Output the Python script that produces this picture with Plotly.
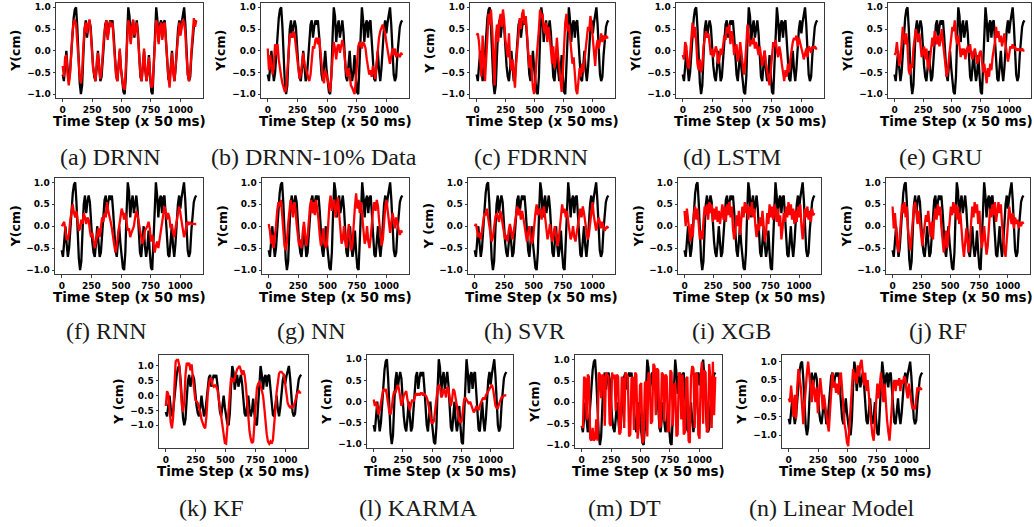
import numpy as np
import plotly.graph_objects as go

# ---------------- data (sampled every ~10 time steps) ----------------
GROUND_TRUTH = [
    -0.55, -0.70, -0.35, 0.00, -0.40, -0.70, -0.50, -0.05, 0.40, 0.75,
    0.95, 1.00, 0.55, -0.20, -0.75, -1.00, -0.80, -0.10, 0.50, 0.70,
    0.30, 0.55, 0.70, 0.55, 0.05, -0.35, -0.60, -0.70, -0.40, 0.00,
    -0.35, -0.70, -0.60, -0.15, 0.30, 0.60, 0.70, 0.30, 0.55, 0.70,
    0.60, 0.70, 0.35, -0.15, -0.55, -0.70, -0.30, 0.00, -0.40, -0.75,
    -0.95, -1.00, -0.60, 0.30, 1.00, 0.80, 0.20, 0.55, 0.70, 0.30,
    0.55, 0.70, 0.40, -0.20, -0.60, -0.70, -0.30, 0.00, -0.45, -0.70,
    -0.50, -0.10, -0.60, -0.95, -1.00, -0.40, 0.50, 1.00, 0.70, 0.20,
    0.60, 0.70, 0.30, 0.65, 0.70, 0.20, -0.35, -0.65, -0.70, -0.30,
    0.00, -0.45, -0.70, -0.40, 0.10, 0.50, 0.70, 0.40, 0.65, 0.90,
    1.00, 0.60, -0.10, -0.55, -0.70, -0.60, -0.10, 0.30, 0.55, 0.65, 0.70,
]

DRNN = [
    -0.35, -0.60, -0.15, -0.10, -0.55, -0.80, -0.55, 0.00, 0.40, 0.65,
    0.72, 0.60, 0.20, -0.35, -0.60, -0.75, -0.50, 0.10, 0.50, 0.65,
    0.40, 0.60, 0.72, 0.45, 0.00, -0.40, -0.55, -0.70, -0.25, -0.05,
    -0.40, -0.65, -0.45, 0.00, 0.35, 0.55, 0.70, 0.25, 0.50, 0.68,
    0.55, 0.65, 0.20, -0.25, -0.60, -0.70, -0.20, 0.05, -0.45, -0.70,
    -0.85, -0.90, -0.45, 0.25, 0.70, 0.60, 0.15, 0.50, 0.72, 0.35,
    0.55, 0.65, 0.30, -0.25, -0.55, -0.70, -0.30, 0.05, -0.40, -0.70,
    -0.45, -0.15, -0.55, -0.85, -0.80, -0.30, 0.40, 0.70, 0.60, 0.15,
    0.55, 0.65, 0.25, 0.60, 0.65, 0.15, -0.30, -0.60, -0.85, -0.30,
    -0.05, -0.50, -0.70, -0.35, 0.05, 0.45, 0.65, 0.35, 0.60, 0.72,
    0.65, 0.40, -0.15, -0.55, -0.70, -0.50, 0.00, 0.35, 0.75, 0.55, 0.70,
]

DRNN_10 = [
    0.05, -0.45, -0.10, -0.40, -0.55, -0.30, 0.15, -0.10, 0.15, -0.20,
    -0.45, -0.60, -0.75, -0.85, -0.95, -0.90, -0.40, 0.10, 0.35, 0.40,
    0.30, 0.45, 0.35, 0.10, -0.20, -0.50, -0.65, -0.55, -0.20, -0.05,
    -0.30, -0.40, -0.55, -0.60, -0.70, -0.55, -0.15, 0.10, 0.05, 0.25,
    0.30, 0.15, 0.30, -0.05, -0.45, -0.60, -0.75, -0.45, -0.55, -0.70,
    -0.80, -0.95, -0.55, -0.10, 0.20, 0.05, -0.20, 0.10, 0.15, -0.05,
    0.10, 0.25, 0.10, -0.20, -0.45, -0.60, -0.40, -0.55, -0.80, -0.85,
    -0.95, -1.00, -0.70, -0.20, 0.10, 0.20, 0.15, 0.05, 0.20, 0.15,
    0.05, -0.20, -0.40, -0.55, -0.45, -0.60, -0.35, -0.55, -0.65, -0.30,
    0.10, 0.30, 0.45, 0.55, 0.60, 0.50, 0.40, 0.20, -0.05, -0.15,
    -0.30, -0.05, 0.05, -0.10, 0.05, -0.15, -0.05, -0.10, -0.15, -0.05, -0.10,
]

FDRNN = [
    0.35, 0.40, 0.20, -0.30, -0.60, 0.35, -0.20, -0.70, -0.20, 0.40,
    0.85, 0.60, 0.95, 0.50, -0.30, -0.80, 0.30, 0.60, 0.20, 0.70,
    0.85, 0.55, 0.95, 0.70, 0.25, 0.00, -0.15, 0.40, -0.25, -0.45,
    -0.20, -0.55, -0.85, -0.30, 0.10, 0.40, 0.75, 0.50, 0.85, 0.95,
    0.60, 0.80, 0.30, -0.20, -0.40, -0.10, -0.55, -0.85, -1.00, -0.70,
    -0.20, 0.10, 0.50, 0.95, 0.75, 0.85, 0.50, 0.40, 0.65, 0.20,
    0.55, 0.35, 0.00, -0.30, 0.10, -0.40, -0.20, 0.30, -0.10, -0.45,
    -0.75, -0.95, -0.50, 0.20, 0.65, 0.85, 0.45, 0.60, 0.30, 0.10,
    -0.30, -0.15, -0.60, -0.90, -1.00, -0.75, -0.40, -0.60, -0.30, -0.50,
    -0.20, 0.10, 0.40, 0.55, 0.45, 0.80, 0.60, 0.30, -0.15, -0.35,
    0.10, 0.25, 0.05, 0.30, 0.40, 0.20, 0.35, 0.25, 0.35, 0.30, 0.30,
]

LSTM = [
    -0.10, -0.20, 0.20, 0.10, -0.35, -0.40, -0.10, 0.20, 0.65, 0.30,
    0.55, 0.20, -0.30, -0.45, -0.20, -0.50, -0.35, 0.10, 0.35, 0.45,
    0.30, 0.40, 0.15, -0.10, 0.05, -0.15, -0.05, 0.10, 0.00, -0.30,
    -0.20, 0.05, -0.10, 0.15, 0.35, 0.25, 0.55, 0.40, 0.60, 0.15,
    0.45, 0.30, -0.10, 0.05, 0.15, -0.25, -0.10, 0.20, -0.05, -0.30,
    -0.55, -0.30, 0.10, 0.60, 0.35, 0.10, 0.25, 0.15, 0.30, 0.05,
    0.20, 0.00, -0.10, 0.10, -0.20, -0.35, -0.15, 0.00, -0.30, -0.45,
    -0.60, -0.80, -0.45, -0.10, 0.20, 0.10, 0.25, 0.00, -0.15, 0.10,
    -0.05, -0.30, -0.50, -0.70, -0.45, -0.60, -0.30, -0.50, -0.20, 0.05,
    0.20, 0.30, 0.25, 0.35, 0.10, 0.30, 0.20, 0.05, -0.05, -0.20,
    -0.10, 0.05, -0.15, 0.10, 0.05, -0.05, 0.10, 0.05, 0.10, 0.05, 0.05,
]

GRU = [
    -0.10, -0.05, 0.20, -0.10, -0.35, -0.20, 0.10, 0.55, 0.30, 0.15,
    0.40, 0.10, -0.45, -0.55, -0.30, -0.40, 0.05, 0.30, 0.50, 0.35,
    0.20, 0.40, 0.05, -0.15, -0.05, 0.10, -0.20, 0.05, -0.30, -0.45,
    -0.20, 0.05, 0.30, 0.10, 0.45, 0.30, 0.15, 0.35, 0.10, 0.25,
    0.50, 0.20, 0.00, -0.30, -0.60, -0.50, -0.20, 0.10, 0.40, 0.55,
    0.45, 0.70, 0.30, 0.15, 0.35, 0.10, -0.15, 0.05, -0.10, 0.05,
    -0.20, 0.00, 0.10, -0.05, 0.15, -0.10, -0.20, -0.05, 0.05, -0.10,
    -0.30, -0.20, -0.05, 0.00, -0.25, -0.50, -0.30, -0.60, -0.75, -0.40,
    -0.60, -0.30, -0.45, -0.15, 0.05, 0.20, 0.55, 0.30, 0.45, 0.20,
    0.35, 0.10, 0.25, 0.40, 0.15, -0.05, -0.25, -0.10, 0.10, 0.05,
    0.15, 0.05, 0.10, 0.00, 0.05, 0.00, 0.05, 0.00, 0.05, 0.00, 0.00,
]

RNN = [
    0.00, 0.05, 0.10, -0.10, -0.30, -0.30, -0.15, 0.15, 0.30, 0.50,
    0.30, 0.20, 0.35, 0.05, -0.10, -0.05, 0.15, 0.05, 0.30, 0.20,
    0.05, 0.20, 0.15, -0.10, -0.25, -0.15, -0.30, -0.50, -0.35, -0.20,
    -0.05, -0.25, 0.00, 0.20, 0.10, 0.30, 0.20, 0.55, 0.35, 0.25,
    0.10, -0.05, -0.30, -0.45, -0.60, -0.45, -0.20, 0.00, 0.25, 0.40,
    0.30, 0.15, 0.30, 0.05, -0.10, -0.05, -0.25, -0.15, -0.05, 0.00,
    0.20, 0.35, 0.25, 0.05, -0.05, -0.25, -0.40, -0.30, -0.10, -0.05,
    0.00, 0.10, -0.05, -0.35, -0.20, -0.40, -0.60, -0.45, -0.35, -0.50,
    -0.30, -0.15, 0.05, 0.20, 0.45, 0.35, 0.15, 0.30, 0.20, -0.05,
    0.05, -0.15, -0.25, -0.05, 0.15, 0.35, 0.45, 0.30, 0.10, -0.10,
    -0.25, -0.15, 0.05, 0.10, 0.05, 0.08, 0.05, 0.06, 0.05, 0.05, 0.05,
]

NN = [
    0.05, -0.10, -0.40, -0.20, -0.50, -0.30, 0.00, 0.35, 0.55, 0.45,
    0.60, 0.30, -0.10, -0.45, -0.55, -0.35, 0.05, 0.40, 0.60, 0.45,
    0.20, 0.55, 0.40, 0.05, -0.25, -0.45, -0.30, -0.50, -0.15, 0.10,
    -0.20, -0.45, -0.25, 0.15, 0.45, 0.60, 0.30, 0.55, 0.25, 0.60,
    0.40, 0.15, -0.20, -0.45, -0.30, -0.05, -0.35, -0.50, -0.40, 0.10,
    0.50, 0.70, 0.35, 0.55, 0.60, 0.20, 0.45, 0.65, 0.30, -0.10,
    -0.40, -0.30, 0.00, -0.35, -0.50, -0.20, 0.05, -0.30, -0.55, -0.40,
    0.10, 0.45, 0.75, 0.40, 0.60, 0.30, 0.55, 0.20, -0.15, -0.40,
    -0.30, 0.00, -0.35, -0.50, -0.25, 0.15, 0.40, 0.55, 0.35, 0.60,
    0.45, 0.10, -0.25, -0.45, -0.30, 0.10, 0.45, 0.60, 0.30, 0.05,
    -0.15, 0.10, 0.30, 0.15, -0.05, 0.20, 0.10, -0.10, -0.20, -0.10, -0.15,
]

SVR = [
    0.00, 0.05, -0.10, -0.25, -0.15, -0.30, -0.10, 0.15, 0.30, 0.25,
    0.40, 0.20, 0.00, -0.20, -0.35, -0.25, 0.00, 0.20, 0.30, 0.20,
    0.10, 0.35, 0.25, 0.05, -0.15, -0.30, -0.20, -0.35, -0.10, 0.05,
    -0.10, -0.30, -0.15, 0.10, 0.30, 0.45, 0.25, 0.40, 0.15, 0.35,
    0.20, 0.00, -0.20, -0.35, -0.15, 0.00, -0.25, -0.40, -0.30, 0.05,
    0.30, 0.50, 0.25, 0.35, 0.40, 0.15, 0.30, 0.45, 0.20, -0.05,
    -0.30, -0.15, 0.05, -0.20, -0.35, -0.15, 0.00, -0.20, -0.45, -0.35,
    0.00, 0.25, 0.50, 0.30, 0.40, 0.20, 0.35, 0.10, -0.10, -0.30,
    -0.20, 0.00, -0.25, -0.35, -0.15, 0.05, 0.25, 0.40, 0.20, 0.45,
    0.30, 0.05, -0.15, -0.30, -0.20, 0.05, 0.30, 0.55, 0.25, 0.05,
    -0.10, 0.05, 0.20, 0.10, -0.05, 0.10, 0.00, -0.10, -0.05, 0.00, -0.05,
]

XGB = [
    0.35, 0.00, 0.40, 0.10, -0.20, -0.35, 0.05, -0.25, 0.30, 0.45,
    0.15, 0.40, 0.05, -0.30, -0.10, -0.30, 0.10, 0.45, 0.25, 0.50,
    0.15, 0.55, 0.30, 0.50, 0.10, 0.40, 0.15, 0.45, 0.10, 0.35,
    0.05, 0.30, 0.50, 0.15, 0.45, 0.10, 0.50, 0.25, 0.55, 0.20,
    0.45, -0.05, -0.30, -0.10, 0.25, 0.00, 0.35, -0.20, 0.10, 0.45,
    0.20, 0.55, 0.30, 0.50, 0.15, 0.45, 0.25, 0.55, 0.20, 0.40,
    0.00, -0.25, 0.05, -0.10, 0.20, 0.00, 0.35, -0.10, -0.35, -0.15,
    0.30, 0.05, 0.50, 0.20, 0.45, 0.15, 0.50, 0.30, 0.10, 0.40,
    0.00, 0.25, -0.30, -0.05, 0.30, 0.10, 0.45, 0.20, 0.55, 0.25,
    0.50, 0.15, 0.40, 0.05, 0.35, 0.10, 0.45, 0.20, 0.50, 0.00,
    -0.30, 0.05, 0.40, 0.20, 0.45, 0.15, 0.35, 0.10, 0.40, 0.25, 0.30,
]

RF = [
    0.45, -0.05, 0.30, -0.20, -0.45, -0.60, -0.20, 0.20, 0.50, 0.30,
    0.55, 0.20, 0.45, -0.10, -0.40, -0.55, -0.20, 0.15, 0.45, 0.55,
    0.25, 0.05, 0.35, 0.10, -0.25, -0.45, -0.20, 0.05, 0.25, 0.10,
    0.35, 0.05, -0.25, 0.10, -0.30, 0.20, 0.40, 0.15, 0.50, 0.25,
    0.45, 0.00, -0.35, -0.60, -0.40, -0.10, -0.50, -0.25, 0.10, 0.45,
    0.25, 0.55, 0.30, 0.50, 0.15, 0.45, 0.05, 0.30, -0.15, -0.45,
    -0.70, -0.35, -0.05, -0.35, -0.60, -0.30, 0.10, 0.45, 0.20, 0.55,
    0.30, 0.50, 0.05, 0.35, -0.20, -0.50, -0.30, 0.00, -0.35, -0.65,
    -0.45, 0.05, 0.40, 0.20, 0.50, 0.25, 0.55, 0.10, 0.40, 0.55,
    0.30, 0.50, 0.05, -0.30, -0.55, -0.70, -0.35, 0.10, 0.45, 0.25,
    0.05, 0.30, -0.05, 0.20, 0.05, 0.15, -0.05, 0.10, 0.00, 0.10, 0.05,
]

KF = [
    -0.35, 0.15, 0.05, -0.50, -0.90, -1.10, -0.70, 0.30, 1.15, 1.20,
    1.20, 1.00, 0.30, -0.30, -0.55, -0.20, 0.70, 1.10, 1.05, 1.10,
    0.85, 1.05, 0.60, 0.10, -0.15, -0.20, -0.25, -0.40, -0.55, -0.80,
    -0.95, -1.05, -1.10, -0.70, 0.00, 0.40, 0.55, 0.60, 0.35, 0.30,
    0.35, 0.30, 0.20, -0.10, -0.50, -0.80, -1.10, -1.35, -1.60, -1.62,
    -1.00, -0.30, 0.30, 0.60, 0.55, 0.45, 0.60, 0.80, 0.90, 0.95,
    1.00, 0.85, 0.70, 0.85, 0.70, 0.35, -0.20, -0.80, -1.20, -1.45,
    -1.60, -1.55, -0.90, -0.20, 0.25, 0.40, 0.45, 0.35, 0.20, 0.00,
    -0.40, -0.90, -1.30, -1.55, -1.62, -1.55, -1.62, -1.50, -1.10, -0.50,
    0.10, 0.50, 0.75, 0.80, 0.80, 0.75, 0.70, 0.40, 0.00, -0.25,
    -0.35, -0.40, -0.35, -0.40, -0.35, -0.20, 0.00, 0.10, 0.15, 0.10, 0.10,
]

KARMA = [
    0.05, -0.10, 0.00, -0.20, -0.30, -0.20, 0.00, 0.20, 0.30, 0.25,
    0.30, 0.15, -0.05, -0.25, -0.30, -0.15, 0.10, 0.25, 0.20, 0.30,
    0.40, 0.30, 0.05, -0.10, 0.00, 0.15, 0.20, 0.25, 0.05, -0.10,
    -0.20, -0.05, 0.05, 0.00, 0.10, 0.20, 0.15, 0.20, 0.15, 0.20,
    0.20, 0.15, 0.20, 0.15, 0.10, 0.00, -0.20, -0.40, -0.50, -0.50,
    -0.45, -0.20, 0.10, 0.30, 0.40, 0.35, 0.10, 0.15, 0.30, 0.25,
    0.10, 0.35, 0.30, 0.05, -0.10, 0.05, 0.30, 0.25, 0.10, -0.10,
    -0.30, -0.45, -0.50, -0.45, -0.20, 0.05, 0.10, 0.05, 0.00, -0.05,
    0.00, -0.10, -0.20, -0.25, -0.20, -0.10, -0.15, -0.20, -0.10, 0.00,
    0.05, 0.10, 0.05, 0.15, 0.20, 0.25, 0.30, 0.35, 0.40, 0.30,
    0.10, -0.10, -0.15, -0.15, -0.05, 0.05, 0.10, 0.10, 0.15, 0.15, 0.15,
]

DT = [
    -0.55, -0.60, 0.60, 0.55, -0.40, 0.65, 0.60, -0.85, -0.90, -0.60,
    -0.90, -0.85, -0.40, -0.90, 0.70, 0.65, 0.10, 0.65, 0.60, -0.55,
    0.70, 0.65, 0.60, -0.50, -0.55, 0.70, 0.55, 0.65, -0.20, 0.65,
    0.60, -0.75, -0.70, 0.60, 0.55, -0.60, 0.70, 0.65, 0.60, -0.80,
    -0.75, 0.55, 0.60, -0.65, 0.70, 0.65, -0.85, -0.60, 0.40, 0.45,
    -0.95, -0.90, 0.45, 0.50, -0.80, 0.70, 0.65, -0.50, -0.45, 0.90,
    0.85, -0.30, 0.80, 0.75, -0.60, -0.55, 0.70, 0.65, -0.45, 0.65,
    0.60, -0.70, -0.65, 0.75, 0.70, -0.55, 0.40, 0.45, -0.80, -0.75,
    0.70, 0.65, -0.40, 0.65, -0.75, -0.70, 0.55, 0.60, -0.90, -0.95,
    0.60, 0.85, 0.80, -0.60, 0.70, 0.65, -0.75, -0.85, 0.60, 0.95,
    -0.50, 0.75, 0.70, -0.70, -0.65, 0.90, 0.55, -0.60, 0.95, -0.30, 0.60,
]

LINEAR = [
    0.00, -0.10, 0.35, -0.20, -0.50, 0.10, -0.55, 0.30, 0.80, 0.55,
    0.30, -0.20, -0.70, -0.20, 0.40, 0.70, 1.00, 0.60, 0.20, -0.10,
    0.50, 0.20, -0.10, 0.30, -0.40, 0.10, 0.55, 0.20, -0.30, 0.10,
    -0.20, -0.50, -0.70, -0.90, -0.30, 0.20, 0.70, 0.30, 0.45, 0.15,
    0.40, 0.10, 0.60, 0.70, 0.20, -0.40, -0.70, -0.90, -1.20, -1.30,
    -0.80, -0.20, 0.30, 0.80, 0.50, 0.70, 0.40, 0.90, 0.60, 0.95,
    1.05, 0.60, 0.35, 0.70, 0.20, 0.50, 0.00, -0.40, -0.70, -1.00,
    -1.15, -0.60, 0.10, 0.40, 0.00, 0.30, 0.70, 0.20, -0.10, 0.40,
    -0.20, -0.60, -0.90, -1.15, -0.70, 0.00, 0.35, 0.50, 0.20, 0.50,
    0.35, 0.55, 0.20, 0.50, 0.40, 0.60, 0.55, 0.20, 0.00, 0.40,
    0.10, -0.10, -0.30, -0.20, -0.30, 0.10, 0.30, 0.20, 0.30, 0.25, 0.25,
]

LAST_STEP = 1135
X_TICKS = [0, 250, 500, 750, 1000]
Y_TICKS = [-1.0, -0.5, 0.0, 0.5, 1.0]
Y_TICK_TEXT = ["\u22121.0", "\u22120.5", "0.0", "0.5", "1.0"]

# ---------------- layout spec (pixel boxes) ----------------
W, H = 1034, 527
PANELS = [
    # caption, y label, series, box (l, r, top, bottom), y range, caption centre
    ("(a) DRNN", "Y(cm)", DRNN, (56, 203, 2, 98), (-1.1, 1.1), (110, 157)),
    ("(b) DRNN-10% Data", "Y(cm)", DRNN_10, (261, 409, 2, 98), (-1.1, 1.1), (314, 157)),
    ("(c) FDRNN", "Y (cm)", FDRNN, (470, 615, 2, 98), (-1.1, 1.1), (531, 157)),
    ("(d) LSTM", "Y(cm)", LSTM, (676, 824, 2, 98), (-1.1, 1.1), (732, 157)),
    ("(e) GRU", "Y(cm)", GRU, (888, 1031, 2, 98), (-1.1, 1.1), (940, 157)),
    ("(f) RNN", "Y(cm)", RNN, (55, 203, 178, 275), (-1.1, 1.1), (106, 332)),
    ("(g) NN", "Y(cm)", NN, (262, 409, 178, 275), (-1.1, 1.1), (311, 332)),
    ("(h) SVR", "Y (cm)", SVR, (468, 615, 178, 275), (-1.1, 1.1), (524, 332)),
    ("(i) XGB", "Y(cm)", XGB, (678, 821, 178, 275), (-1.1, 1.1), (731, 332)),
    ("(j) RF", "Y(cm)", RF, (886, 1030, 178, 275), (-1.1, 1.1), (938, 332)),
    ("(k) KF", "Y (cm)", KF, (159, 308, 356, 450), (-1.78, 1.37), (211, 510)),
    ("(l) KARMA", "Y (cm)", KARMA, (367, 513, 356, 450), (-1.1, 1.1), (418, 510)),
    ("(m) DT", "Y(cm)", DT, (575, 722, 356, 450), (-1.08, 1.11), (624, 510)),
    ("(n) Linear Model", "Y (cm)", LINEAR, (782, 929, 356, 450), (-1.36, 1.18), (832, 510)),
]

TICK_FONT = dict(family="DejaVu Sans", size=9, color="black", weight="bold")
TITLE_FONT = dict(family="DejaVu Sans", size=13.5, color="black", weight="bold")
YTITLE_FONT = dict(family="DejaVu Sans", size=12.5, color="black", weight="bold")
CAPTION_FONT = dict(family="Liberation Serif", size=24, color="#1a1a1a")

fig = go.Figure()
annotations = []
layout_axes = {}

for i, (caption, ylabel, series, box, yr, cap) in enumerate(PANELS, start=1):
    l, r, t, b = box
    xa = "x" if i == 1 else f"x{i}"
    ya = "y" if i == 1 else f"y{i}"
    steps_true = np.linspace(0, LAST_STEP, len(GROUND_TRUTH))
    steps_pred = np.linspace(0, LAST_STEP, len(series))
    fig.add_trace(go.Scatter(x=steps_true, y=GROUND_TRUTH, mode="lines",
                             line=dict(color="black", width=2.3),
                             xaxis=xa, yaxis=ya, showlegend=False, hoverinfo="skip"))
    fig.add_trace(go.Scatter(x=steps_pred, y=series, mode="lines",
                             line=dict(color="#ff0000", width=2.3),
                             xaxis=xa, yaxis=ya, showlegend=False, hoverinfo="skip"))
    xkey = "xaxis" if i == 1 else f"xaxis{i}"
    ykey = "yaxis" if i == 1 else f"yaxis{i}"
    common = dict(showgrid=False, zeroline=False, showline=True, mirror=True,
                  linecolor="#3a3a3a", linewidth=1, ticks="outside", ticklen=2.5,
                  tickwidth=1, tickcolor="#3a3a3a", tickfont=TICK_FONT, fixedrange=True)
    layout_axes[xkey] = dict(domain=[l / W, r / W], anchor=ya,
                             range=[-57, 1192], tickmode="array",
                             tickvals=X_TICKS, ticktext=[str(v) for v in X_TICKS],
                             **common)
    layout_axes[ykey] = dict(domain=[1 - b / H, 1 - t / H], anchor=xa,
                             range=list(yr), tickmode="array",
                             tickvals=Y_TICKS, ticktext=Y_TICK_TEXT, **common)
    title_cx = min((l + r) / 2, W - 78)
    annotations.append(dict(text="Time Step (x 50 ms)", xref="paper", yref="paper",
                            x=title_cx / W, y=1 - (b + 23) / H,
                            xanchor="center", yanchor="middle", showarrow=False,
                            font=TITLE_FONT))
    annotations.append(dict(text=ylabel, xref="paper", yref="paper",
                            x=(l - 40) / W, y=1 - (t + b) / 2 / H, textangle=-90,
                            xanchor="center", yanchor="middle", showarrow=False,
                            font=YTITLE_FONT))
    annotations.append(dict(text=caption, xref="paper", yref="paper",
                            x=cap[0] / W, y=1 - cap[1] / H,
                            xanchor="center", yanchor="middle", showarrow=False,
                            font=CAPTION_FONT))

fig.update_layout(width=W, height=H, margin=dict(l=0, r=0, t=0, b=0),
                  paper_bgcolor="white", plot_bgcolor="white",
                  annotations=annotations, showlegend=False, **layout_axes)

fig.write_html("out.html",
               config={"displayModeBar": False, "staticPlot": True},
               post_script="document.body.style.margin='0px';"
                           "document.body.style.overflow='hidden';")
